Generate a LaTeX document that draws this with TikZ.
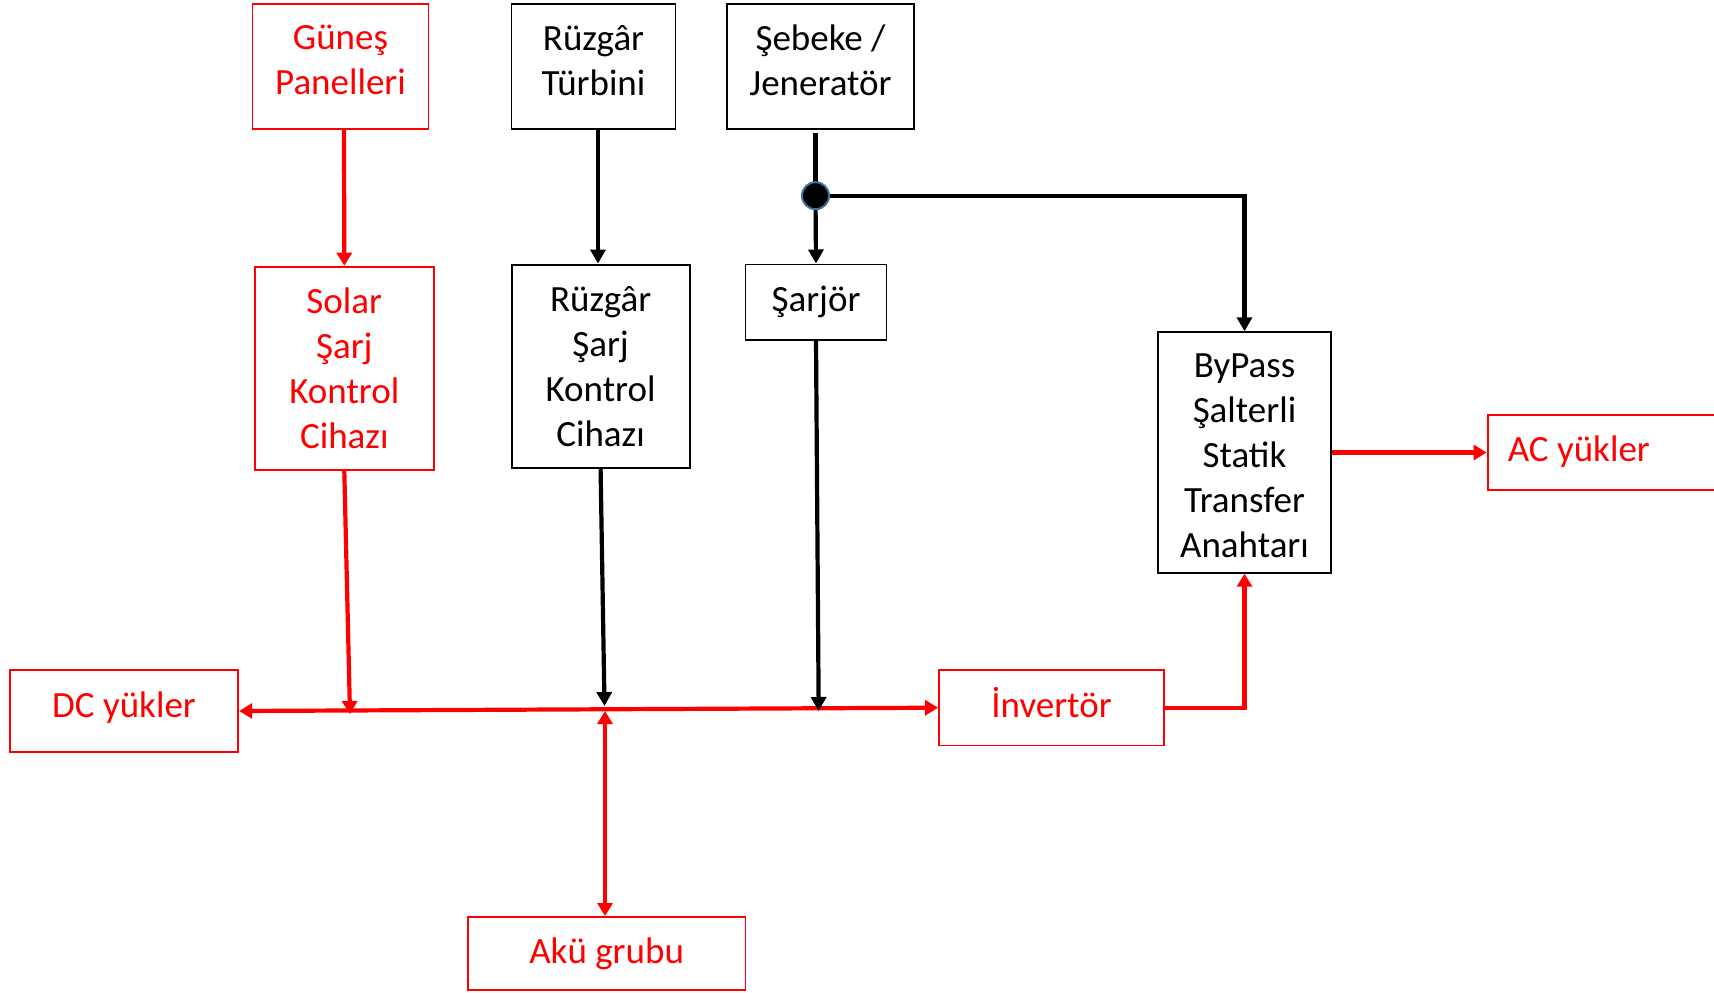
\documentclass[tikz,border=0pt]{standalone}
\usepackage{fontspec}
\setmainfont{Carlito}
\usetikzlibrary{arrows.meta,calc}
\definecolor{dotblue}{HTML}{41719C}
\tikzset{
  bbox/.style={draw=black, line width=1.9pt, inner sep=0pt},
  rbox/.style={draw=red, line width=1.9pt, inner sep=0pt},
  btx/.style={text=black, align=center, inner sep=0pt, font=\fontsize{37}{45}\selectfont},
  rtx/.style={text=red, align=center, inner sep=0pt, font=\fontsize{37}{45}\selectfont},
  blk/.style={draw=black, line width=4.2pt, -{Triangle[width=15pt,length=14pt]}},
  rarr/.style={draw=red, line width=4.2pt, -{Triangle[width=15pt,length=13pt]}},
  rdbl/.style={draw=red, line width=4.2pt, {Triangle[width=15pt,length=13pt]}-{Triangle[width=15pt,length=13pt]}},
  blkplain/.style={draw=black, line width=4.2pt},
}
\begin{document}
\begin{tikzpicture}[x=1pt,y=-1pt]
\useasboundingbox (0,0) rectangle (1714,993);
% boxes
\node[rbox, minimum width=176pt, minimum height=124.6pt] (gp) at (340.5,66.7) {};
\node[bbox, minimum width=164pt, minimum height=124.6pt] (rt) at (593.5,66.7) {};
\node[bbox, minimum width=187pt, minimum height=124.6pt] (sj) at (820.5,66.7) {};
\node[rbox, minimum width=179.3pt, minimum height=203.3pt] (sol) at (344.3,368.3) {};
\node[bbox, minimum width=178pt, minimum height=203.3pt] (rsc) at (600.6,366.2) {};
\node[bbox, minimum width=141pt, minimum height=75.5pt] (sr) at (816,302.2) {};
\node[bbox, minimum width=173.8pt, minimum height=240.5pt] (bp) at (1244.5,452.5) {};
\node[rbox, minimum width=236pt, minimum height=74.3pt, anchor=west] (ac) at (1486.6,452.5) {};
\node[rbox, minimum width=228.5pt, minimum height=82pt] (dc) at (124,711) {};
\node[rbox, minimum width=225pt, minimum height=75.5pt] (inv) at (1051.5,707.7) {};
\node[rbox, minimum width=277.7pt, minimum height=73pt] (aku) at (606.6,953.5) {};
% texts
\node[rtx] (gpt) at ($(gp.center)+(0,-6.5)$) {Güneş\\Panelleri};
\node[btx] (rtt) at ($(rt.center)+(0,-6.5)$) {Rüzgâr\\Türbini};
\node[btx] (sjt) at ($(sj.center)+(0,-6.5)$) {Şebeke /\\Jeneratör};
\node[rtx] (solt) at (sol.center) {Solar\\Şarj\\Kontrol\\Cihazı};
\node[btx] (rsct) at (rsc.center) {Rüzgâr\\Şarj\\Kontrol\\Cihazı};
\node[btx] (srt) at (sr.center) {Şarjör};
\node[btx] (bpt) at ($(bp.center)+(0,3)$) {ByPass\\Şalterli\\Statik\\Transfer\\Anahtarı};
\node[rtx, anchor=west] (act) at ($(ac.west)+(21,-1)$) {AC yükler};
\node[rtx] (dct) at ($(dc.center)+(0,-3)$) {DC yükler};
\node[rtx] (invt) at ($(inv.center)+(0,-5)$) {İnvertör};
\node[rtx] (akut) at (aku.center) {Akü grubu};
% coordinates
\coordinate (sjtop) at (815.5,133);
\coordinate (jd) at (815.5,195.7);
\coordinate (jr) at (1244.5,195.7);
\coordinate (ir) at (1244.5,707.7);
\coordinate (bsol) at (350,714);
\coordinate (brsc) at (604.5,706);
\coordinate (bsr) at (818.7,711);
\coordinate (baku) at (605,711);
% connectors
\draw[rarr] ([xshift=3.5pt]gp.south) -- (sol.north);
\draw[blk] ([xshift=4.5pt]rt.south) -- ([xshift=-2.6pt]rsc.north);
\draw[blkplain] (sjtop) -- (jd);
\draw[blk] (jd) -- (sr.north);
\draw[blk] (jd) -- (jr) -- (bp.north);
\draw[rdbl] (dc.east) -- (inv.west);
\draw[rarr] (sol.south) -- (bsol);
\draw[blk] (rsc.south) -- (brsc);
\draw[blk] (sr.south) -- (bsr);
\draw[rdbl] (baku) -- ([xshift=-1.6pt]aku.north);
\draw[rarr] (inv.east) -- (ir) -- (bp.south);
\draw[rarr] (bp.east) -- (ac.west);
\node[circle, fill=black, draw=dotblue, line width=2pt, minimum size=27pt, inner sep=0pt] (dot) at (jd) {};
\end{tikzpicture}
\end{document}
